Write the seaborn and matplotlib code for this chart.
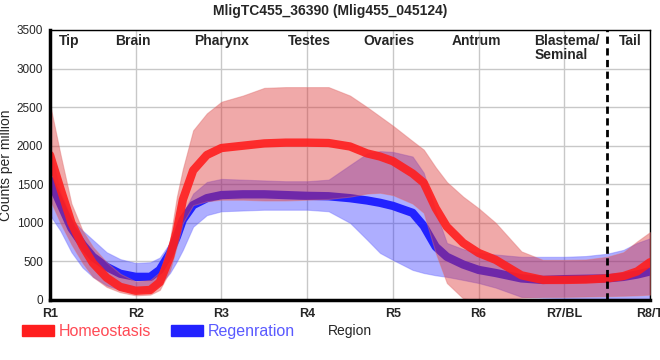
import matplotlib
matplotlib.use("Agg")
import matplotlib.pyplot as plt
from matplotlib.patches import Patch
import seaborn as sns
import pandas as pd

# positions along the body axis (0 = R1 ... 7 = R8/T)
pos = [0, 0.12, 0.25, 0.38, 0.5, 0.66, 0.82, 1.0, 1.17, 1.28, 1.4, 1.48, 1.55, 1.67,
       1.83, 2.0, 2.25, 2.5, 2.75, 3.0, 3.25, 3.5, 3.7, 3.85, 4.0, 4.23, 4.36, 4.5,
       4.63, 4.82, 5.0, 5.2, 5.5, 5.75, 6.0, 6.25, 6.5, 6.69, 6.85, 7.0]

homeo_mean = [1880, 1450, 1000, 700, 480, 290, 170, 120, 130, 230, 560, 900, 1300, 1680,
              1880, 1970, 2000, 2030, 2040, 2040, 2035, 1990, 1900, 1860, 1800, 1640, 1520, 1190,
              950, 740, 610, 520, 320, 260, 260, 265, 280, 310, 370, 490]
homeo_hi = [2540, 1900, 1250, 900, 690, 490, 340, 240, 260, 360, 780, 1340, 1700, 2200,
            2420, 2570, 2650, 2750, 2760, 2760, 2760, 2650, 2500, 2380, 2260, 2060, 1950, 1720,
            1530, 1340, 1190, 1000, 630, 520, 520, 525, 560, 620, 760, 880]
homeo_lo = [1300, 1000, 720, 480, 300, 170, 100, 60, 70, 130, 380, 700, 1000, 1230,
            1280, 1300, 1300, 1290, 1290, 1300, 1310, 1340, 1380, 1390, 1360, 1250, 1130, 610,
            220, 20, 0, 0, 30, 40, 40, 45, 50, 55, 60, 70]

regen_mean = [1550, 1250, 930, 720, 560, 430, 340, 300, 300, 390, 610, 820, 1040, 1230,
              1320, 1360, 1370, 1370, 1360, 1350, 1345, 1320, 1290, 1260, 1220, 1130, 960, 690,
              560, 460, 390, 350, 280, 260, 270, 275, 280, 300, 330, 370]
regen_hi = [1950, 1400, 1050, 900, 780, 620, 530, 480, 490, 550, 740, 900, 1120, 1380,
            1530, 1570, 1560, 1550, 1540, 1540, 1560, 1750, 1900, 1930, 1920, 1860, 1650, 1150,
            740, 660, 610, 590, 560, 560, 560, 570, 600, 650, 740, 800]
regen_lo = [1100, 900, 620, 420, 300, 190, 130, 100, 110, 200, 350, 500, 650, 950,
            1100, 1150, 1160, 1170, 1170, 1170, 1150, 1000, 780, 610, 520, 390, 350, 320,
            300, 260, 220, 160, 40, 30, 25, 25, 25, 25, 25, 25]

region_ticks = ["R1", "R2", "R3", "R4", "R5", "R6", "R7/BL", "R8/T"]
organs = ["Tip", "Brain", "Pharynx", "Testes", "Ovaries", "Antrum", "Blastema/\nSeminal", "Tail"]

sns.set_style("whitegrid")
plt.rcParams["font.family"] = ["Liberation Sans", "DejaVu Sans"]

red = "#ff1e1e"
blue = "#2222ff"

fig = plt.figure(figsize=(6.6, 3.6), dpi=100)
ax = fig.add_axes([50 / 660, 60 / 360, 600 / 660, 270 / 360])

# blue band + line first, red band + line on top
ax.fill_between(pos, regen_lo, regen_hi, color="#2a2aff", alpha=0.38, lw=0.8,
                edgecolor="#6a6aff", zorder=2)
sns.lineplot(x=pos, y=regen_mean, color=blue, linewidth=6, ax=ax, zorder=3,
             solid_joinstyle="round")
ax.fill_between(pos, homeo_lo, homeo_hi, color="#dc3232", alpha=0.42, lw=0.8,
                edgecolor="#e07070", zorder=4)
sns.lineplot(x=pos, y=homeo_mean, color=red, linewidth=6, alpha=0.9, ax=ax, zorder=5,
             solid_joinstyle="round")

ax.axvline(6.5, color="black", lw=2, ls=(0, (2.6, 1.6)), zorder=6)

ax.set_xlim(0, 7)
ax.set_ylim(0, 3500)
ax.set_xticks(range(len(region_ticks)))
ax.set_xticklabels(region_ticks, fontsize=9, fontweight="bold")
ax.set_yticks(range(0, 3501, 500))
ax.tick_params(axis="y", labelsize=8.5, length=4, color="black", pad=1)
ax.tick_params(axis="x", length=4, color="black", pad=2)
ax.grid(True, color="#c8c8c8", lw=1)

for side in ["top", "right"]:
    ax.spines[side].set_color("black")
    ax.spines[side].set_linewidth(1)
for side in ["left", "bottom"]:
    ax.spines[side].set_color("black")
    ax.spines[side].set_linewidth(2.5)
    ax.spines[side].set_zorder(7)

organ_x = [0.22, 0.97, 2.0, 3.03, 3.95, 4.98, 5.65, 6.77]
for name, xo in zip(organs, organ_x):
    ha = "left" if "\n" in name else "center"
    ax.text(xo, 3450, name, ha=ha, va="top", fontsize=10, fontweight="bold",
            linespacing=1.0, zorder=8)

ax.set_ylabel("Counts per million", fontsize=10)
ax.yaxis.set_label_coords(-0.062, 0.5)
ax.set_xlabel("Region", fontsize=10)
ax.xaxis.set_label_coords(0.5, -0.09)
fig.suptitle("MligTC455_36390 (Mlig455_045124)", fontsize=10, fontweight="bold",
             x=0.5, y=0.99)

handles = [Patch(color=red, label="Homeostasis"), Patch(color=blue, label="Regenration")]
leg = fig.legend(handles=handles, loc="lower left", bbox_to_anchor=(0.012, 0.018),
                 ncol=2, frameon=False, fontsize=11.5, handlelength=2.0,
                 handleheight=0.6, handletextpad=0.3, columnspacing=1.2)
for txt, c in zip(leg.get_texts(), ["#ff4a55", "#5a5aff"]):
    txt.set_color(c)

fig.savefig("out.png", dpi=100)
